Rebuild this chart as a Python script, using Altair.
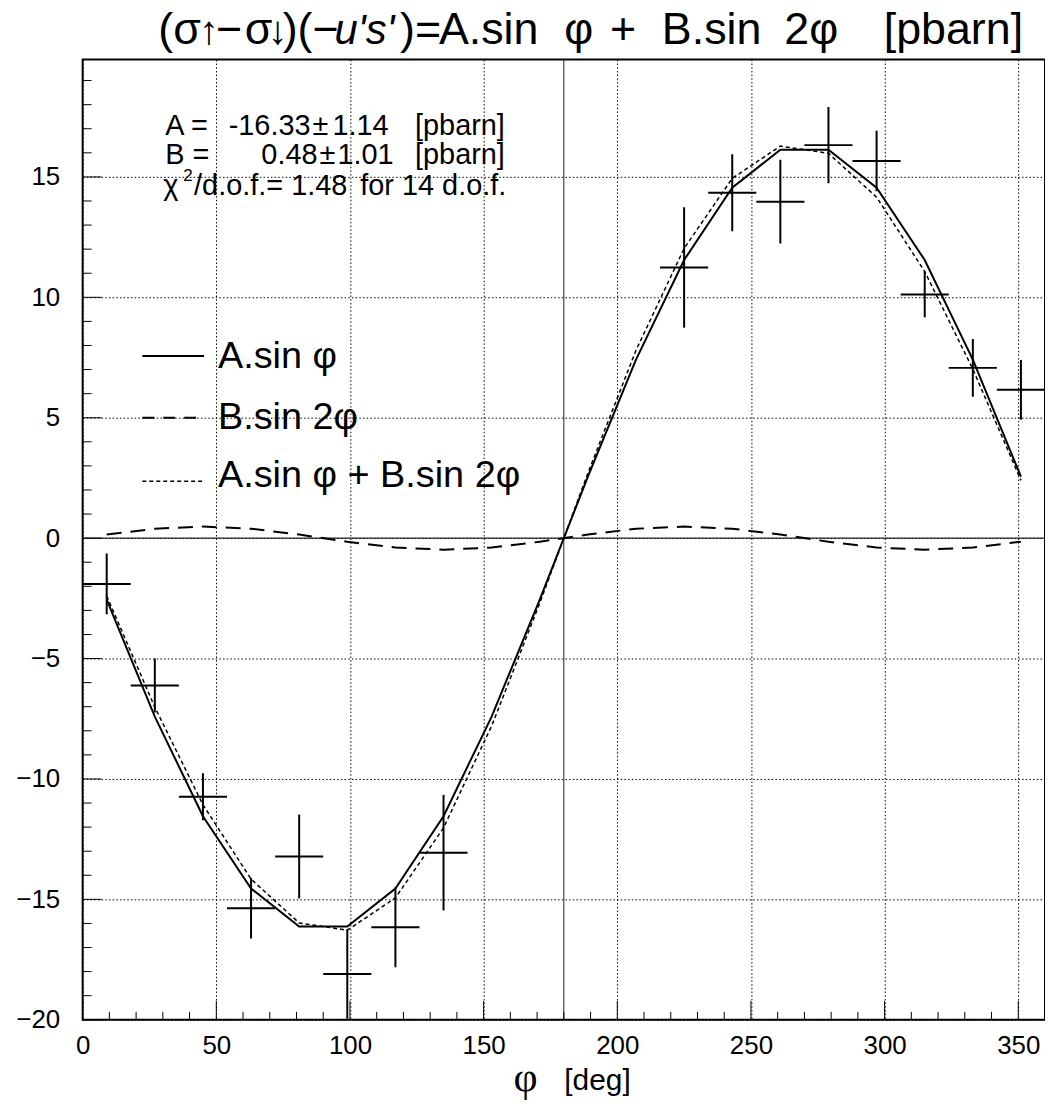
import altair as alt
import pandas as pd

# ---------------- data ----------------
# fit curves, evaluated at the bin centres and joined by straight segments
curve_phi = [9, 27, 45, 63, 81, 99, 117, 135, 153, 171, 189, 207, 225, 243, 261, 279, 297, 315, 333, 351]
curve_a = [-2.55, -7.41, -11.55, -14.55, -16.13, -16.13, -14.55, -11.55, -7.41, -2.55,
           2.55, 7.41, 11.55, 14.55, 16.13, 16.13, 14.55, 11.55, 7.41, 2.55]
curve_b = [0.15, 0.39, 0.48, 0.39, 0.15, -0.15, -0.39, -0.48, -0.39, -0.15,
           0.15, 0.39, 0.48, 0.39, 0.15, -0.15, -0.39, -0.48, -0.39, -0.15]
curve_sum = [-2.40, -7.02, -11.07, -14.16, -15.98, -16.28, -14.94, -12.03, -7.80, -2.70,
             2.70, 7.80, 12.03, 14.94, 16.28, 15.98, 14.16, 11.07, 7.02, 2.40]

# measured points
pt_phi = [9, 27, 45, 63, 81, 99, 117, 135, 225, 243, 261, 279, 297, 315, 333, 351]
pt_val = [-1.90, -6.12, -10.74, -15.37, -13.22, -18.10, -16.16, -13.06,
          11.24, 14.34, 13.97, 16.32, 15.66, 10.12, 7.07, 6.16]
pt_err = [1.26, 1.12, 0.98, 1.26, 1.74, 1.86, 1.66, 2.40,
          2.50, 1.60, 1.74, 1.58, 1.26, 0.95, 1.20, 1.24]
bin_half = 9

x_major = [0, 50, 100, 150, 200, 250, 300, 350]
x_minor = [10, 20, 30, 40, 60, 70, 80, 90, 110, 120, 130, 140, 160, 170, 180, 190,
           210, 220, 230, 240, 260, 270, 280, 290, 310, 320, 330, 340]
y_major = [-20, -15, -10, -5, 0, 5, 10, 15]
y_minor = [-19, -18, -17, -16, -14, -13, -12, -11, -9, -8, -7, -6, -4, -3, -2, -1,
           1, 2, 3, 4, 6, 7, 8, 9, 11, 12, 13, 14, 16, 17, 18, 19]
zero_lines_x = [180]
zero_lines_y = [0]

legend_labels = ["A.sin φ", "B.sin 2φ", "A.sin φ + B.sin 2φ"]

W, H = 967, 965
FONT = "Liberation Sans"

xs = alt.Scale(domain=[0, 360], nice=False, zero=False)
ys = alt.Scale(domain=[-20, 19.88], nice=False, zero=False)
XAX = alt.Axis(values=x_major, title=None, labelPadding=13, grid=True, labelFlush=False)
YAX = alt.Axis(values=y_major, title=None, labelPadding=23, grid=True, labelFlush=False)


def X(field):
    return alt.X(field, scale=xs, axis=XAX)


def Y(field):
    return alt.Y(field, scale=ys, axis=YAX)


curves = pd.DataFrame({"phi": curve_phi, "a": curve_a, "b": curve_b, "s": curve_sum})
pts = pd.DataFrame({"phi": pt_phi, "val": pt_val, "err": pt_err})
pts["lo"] = pts["phi"] - bin_half
pts["hi"] = pts["phi"] + bin_half
pts["ylo"] = pts["val"] - pts["err"]
pts["yhi"] = pts["val"] + pts["err"]

base_c = alt.Chart(curves)
line_a = base_c.mark_line(color="black", strokeWidth=2, clip=True).encode(
    x=X("phi:Q"), y=Y("a:Q"))
line_b = base_c.mark_line(color="black", strokeWidth=2, strokeDash=[15, 9], clip=True).encode(
    x=X("phi:Q"), y=Y("b:Q"))
line_s = base_c.mark_line(color="black", strokeWidth=1.5, strokeDash=[4, 3], clip=True).encode(
    x=X("phi:Q"), y=Y("s:Q"))

vline = alt.Chart(pd.DataFrame({"v": zero_lines_x})).mark_rule(color="#222", strokeWidth=1).encode(
    x=X("v:Q"), y=alt.value(0), y2=alt.value(H))
hline = alt.Chart(pd.DataFrame({"v": zero_lines_y})).mark_rule(color="#222", strokeWidth=1.2).encode(
    y=Y("v:Q"), x=alt.value(0), x2=alt.value(W))

hbar = alt.Chart(pts).mark_rule(color="black", strokeWidth=2, clip=True).encode(
    x=X("lo:Q"), x2="hi:Q", y=Y("val:Q"))
vbar = alt.Chart(pts).mark_rule(color="black", strokeWidth=2, clip=True).encode(
    x=X("phi:Q"), y=Y("ylo:Q"), y2="yhi:Q")


def xticks(vals, length):
    return alt.Chart(pd.DataFrame({"v": vals})).mark_rule(color="black", strokeWidth=1).encode(
        x=X("v:Q"), y=alt.value(H), y2=alt.value(H - length))


def yticks(vals, length):
    return alt.Chart(pd.DataFrame({"v": vals})).mark_rule(color="black", strokeWidth=1).encode(
        y=Y("v:Q"), x=alt.value(0), x2=alt.value(length))


def txt(s, x, y, size, align="left", font=FONT, style="normal"):
    return alt.Chart(pd.DataFrame({"t": [s]})).mark_text(
        align=align, baseline="alphabetic", fontSize=size, font=font,
        fontStyle=style, color="black").encode(
        x=alt.value(x), y=alt.value(y), text="t:N")


def key(x0, x1, y, dash, width):
    kw = dict(color="black", strokeWidth=width)
    if dash:
        kw["strokeDash"] = dash
    return alt.Chart(pd.DataFrame({"k": [0]})).mark_rule(**kw).encode(
        x=alt.value(x0), x2=alt.value(x1), y=alt.value(y))


TY = -15  # title baseline (relative to plot top)
TS = 45
SS = 29   # fit-result text size
texts = [
    # title, piece by piece (relative x = page x - 83)
    txt("(σ", 76, TY, TS),
    txt("↑", 127, TY, 40, align="center"),
    txt("−", 134, TY, TS),
    txt("σ", 163, TY, TS),
    txt("↓", 196, TY, 40, align="center"),
    txt(")(−", 201, TY, TS),
    txt("u's'", 253, TY, 42, style="italic"),
    txt(")=", 319, TY, TS),
    txt("A.sin", 358, TY, TS),
    txt("φ", 484, TY, TS),
    txt("+", 530, TY, TS),
    txt("B.sin", 582, TY, TS),
    txt("2φ", 705, TY, TS),
    txt("[pbarn]", 945, TY, TS, align="right"),
    # fit results
    txt("A =", 83, 76, SS),
    txt("-16.33", 229, 76, SS, align="right"),
    txt("±", 239, 76, SS, align="center"),
    txt("1.14", 251, 76, SS),
    txt("[pbarn]", 334, 76, SS),
    txt("B =", 83, 105, SS),
    txt("0.48", 236, 105, SS, align="right"),
    txt("±", 246, 105, SS, align="center"),
    txt("1.01", 256, 105, SS),
    txt("[pbarn]", 334, 105, SS),
    txt("χ", 81, 136, SS),
    txt("2", 101, 122, 17),
    txt("/d.o.f.=", 112, 136, SS),
    txt("1.48", 266, 136, SS, align="right"),
    txt("for 14 d.o.f.", 279, 136, SS),
    # legend
    txt(legend_labels[0], 136, 310, 38),
    txt(legend_labels[1], 136, 371, 38),
    txt(legend_labels[2], 136, 430, 38),
    key(60, 122, 298, None, 2),
    key(60, 122, 360, [12, 9], 2),
    key(60, 122, 424, [4, 3], 1.5),
    # x axis title
    txt("φ", 445, 1037, 42, align="center", font="Liberation Serif"),
    txt("[deg]", 484, 1036, 30),
]

chart = alt.layer(
    line_a, vline, hline, line_b, line_s, hbar, vbar,
    xticks(x_major, 19), xticks(x_minor, 8), yticks(y_major, 19), yticks(y_minor, 9),
    *texts,
).properties(
    width=W, height=H,
    autosize=alt.AutoSizeParams(type="none"),
    padding={"left": 75, "top": 49, "right": 0, "bottom": 82},
).configure_view(
    stroke="black", strokeWidth=2
).configure_axis(
    labelFont=FONT, labelFontSize=26, labelColor="black",
    domain=False, ticks=False, tickSize=0,
    gridColor="black", gridDash=[1.5, 2.2], gridWidth=1, gridOpacity=1,
)

chart.save("out.html", embed_options={"renderer": "svg", "actions": False})
